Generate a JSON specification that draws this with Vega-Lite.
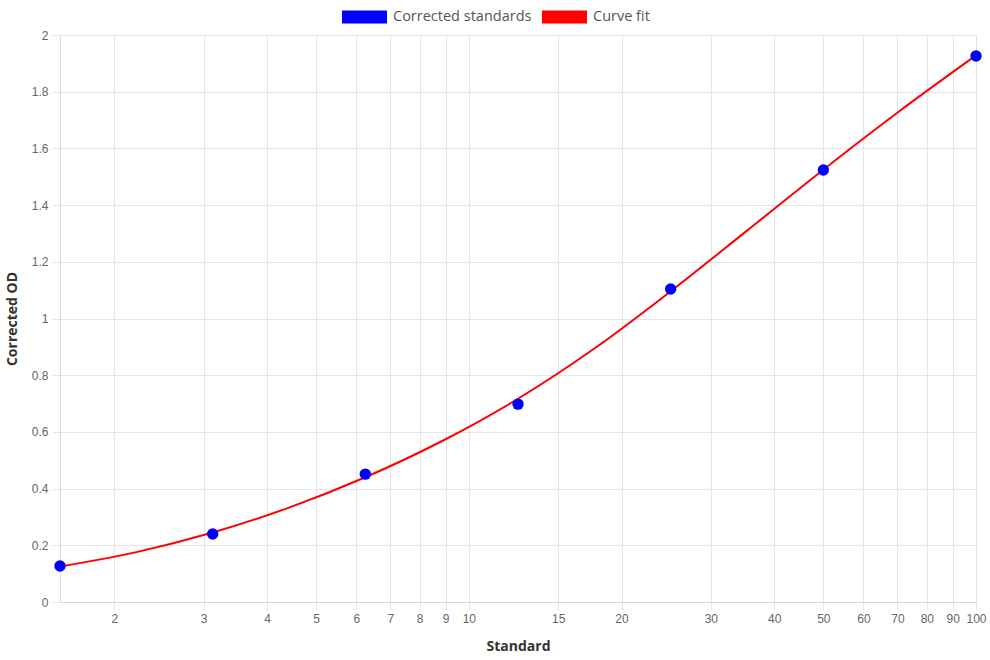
{
  "$schema": "https://vega.github.io/schema/vega-lite/v6.json",
  "width": 916,
  "height": 567,
  "autosize": {"type": "none"},
  "padding": {"left": 60, "top": 35, "right": 14, "bottom": 58},
  "background": "white",
  "config": {
    "view": {"stroke": null},
    "axis": {
      "gridColor": "#e5e5e5",
      "domainColor": "#d9d9d9",
      "tickColor": "#e5e5e5",
      "tickSize": 8,
      "labelFont": "Liberation Sans",
      "labelFontSize": 12,
      "labelColor": "#666666",
      "labelOverlap": false,
      "labelFlush": false,
      "labelBound": false,
      "titleFont": "Open Sans",
      "titleFontSize": 14,
      "titleFontWeight": "bold",
      "titleColor": "#333333"
    },
    "legend": {
      "labelFont": "Open Sans",
      "labelFontSize": 14.5,
      "labelColor": "#555555",
      "padding": 0
    }
  },
  "datasets": {
    "standards": [
      {"Standard": 1.5625, "OD": 0.127},
      {"Standard": 3.125, "OD": 0.240},
      {"Standard": 6.25, "OD": 0.451},
      {"Standard": 12.5, "OD": 0.698},
      {"Standard": 25, "OD": 1.104},
      {"Standard": 50, "OD": 1.524},
      {"Standard": 100, "OD": 1.926}
    ],
    "curve": [
      {"Standard": 1.5625, "OD": 0.125},
      {"Standard": 2.21, "OD": 0.176},
      {"Standard": 3.125, "OD": 0.245},
      {"Standard": 4.42, "OD": 0.333},
      {"Standard": 6.25, "OD": 0.440},
      {"Standard": 8.84, "OD": 0.567},
      {"Standard": 12.5, "OD": 0.717},
      {"Standard": 17.68, "OD": 0.894},
      {"Standard": 25, "OD": 1.096},
      {"Standard": 35.36, "OD": 1.310},
      {"Standard": 50, "OD": 1.525},
      {"Standard": 70.71, "OD": 1.732},
      {"Standard": 100, "OD": 1.928}
    ]
  },
  "encoding": {
    "x": {
      "field": "Standard",
      "type": "quantitative",
      "scale": {"type": "log", "domain": [1.5625, 100], "nice": false},
      "axis": {
        "title": "Standard",
        "values": [2, 3, 4, 5, 6, 7, 8, 9, 10, 15, 20, 30, 40, 50, 60, 70, 80, 90, 100],
        "format": "~g",
        "labelPadding": 3,
        "titleY": 44,
        "titleBaseline": "middle"
      }
    },
    "y": {
      "field": "OD",
      "type": "quantitative",
      "scale": {"domain": [0, 2], "nice": false},
      "axis": {
        "title": "Corrected OD",
        "values": [0, 0.2, 0.4, 0.6, 0.8, 1, 1.2, 1.4, 1.6, 1.8, 2],
        "format": ".1~f",
        "labelPadding": 4,
        "titleX": -48,
        "titleY": 283.5,
        "titleBaseline": "middle",
        "titleAlign": "center"
      }
    },
    "color": {
      "field": "series",
      "type": "nominal",
      "scale": {"domain": ["Corrected standards", "Curve fit"], "range": ["#0000ff", "#ff0000"]},
      "legend": {
        "title": null,
        "orient": "none",
        "direction": "horizontal",
        "legendX": 282,
        "legendY": -41,
        "symbolType": "M-1,-0.29H1V0.29H-1Z",
        "symbolSize": 2025,
        "labelOffset": 6,
        "columnPadding": 10,
        "symbolStrokeWidth": 0,
        "encode": {
          "symbols": {
            "update": {
              "fill": {"scale": "color", "field": "value"},
              "stroke": {"scale": "color", "field": "value"},
              "strokeWidth": {"value": 0},
              "opacity": {"value": 1}
            }
          }
        }
      }
    }
  },
  "layer": [
    {
      "data": {"name": "curve"},
      "transform": [{"calculate": "'Curve fit'", "as": "series"}],
      "mark": {"type": "line", "interpolate": "monotone", "strokeWidth": 2}
    },
    {
      "data": {"name": "standards"},
      "transform": [{"calculate": "'Corrected standards'", "as": "series"}],
      "mark": {"type": "point", "filled": true, "size": 130, "opacity": 1}
    }
  ]
}
